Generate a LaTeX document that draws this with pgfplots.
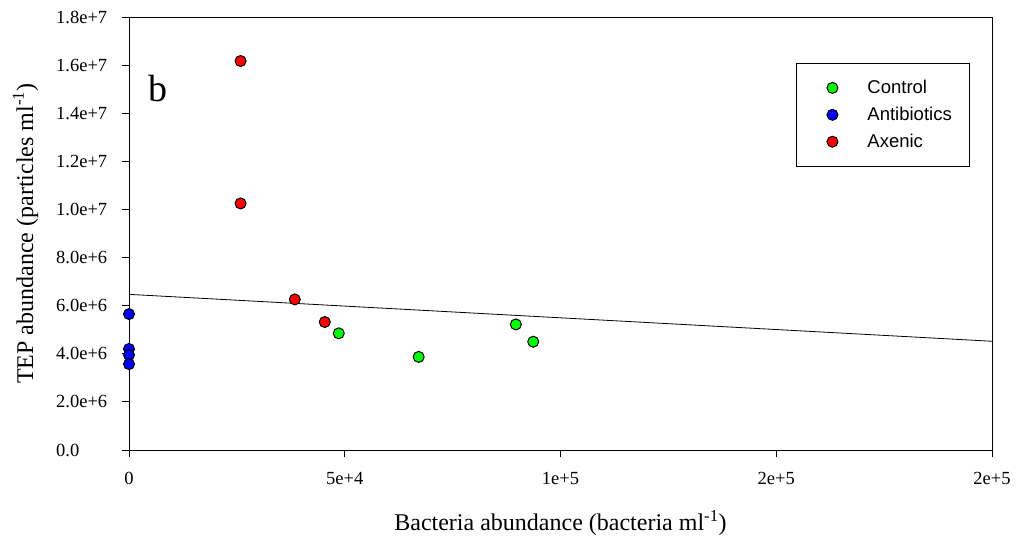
\documentclass[border=0pt]{standalone}
\usepackage{pgfplots}
\pgfplotsset{compat=1.18}
\usepackage{fontspec}
\setmainfont{Liberation Serif}
\newfontfamily\legendfont{Liberation Sans}
\definecolor{cgreen}{RGB}{0,255,0}
\definecolor{cblue}{RGB}{0,0,255}
\definecolor{cred}{RGB}{255,0,0}
\pgfplotsset{
  pt/.style={only marks, mark=*, mark size=5.5pt,
    mark options={draw=black, line width=1pt, fill=#1},
    legend image code/.code={\path[draw=none,fill=none] (-18pt,0pt) -- (6pt,0pt); \draw[##1, only marks] plot coordinates {(0pt,0pt)};}},
}
\begin{document}
\begin{tikzpicture}
\useasboundingbox (-129pt,-87pt) rectangle (887pt,450pt);
\begin{axis}[
  at={(0pt,0pt)}, anchor=south west,
  scale only axis, width=863pt, height=433pt,
  xmin=0, xmax=200000, ymin=0, ymax=18000000,
  scaled ticks=false,
  clip=false,
  axis line style={line width=0.9pt},
  tick style={line width=0.9pt, black},
  tick align=outside, tick pos=left,
  major tick length=7pt,
  xtick={0,50000,100000,150000,200000},
  xticklabels={0,5e+4,1e+5,2e+5,2e+5},
  ytick={0,2000000,4000000,6000000,8000000,10000000,12000000,14000000,16000000,18000000},
  yticklabels={0.0,2.0e+6,4.0e+6,6.0e+6,8.0e+6,1.0e+7,1.2e+7,1.4e+7,1.6e+7,1.8e+7},
  ticklabel style={font=\fontsize{18.5}{20}\selectfont, inner sep=0pt},
  yticklabel style={anchor=west, xshift=-66pt},
  xticklabel style={anchor=north, yshift=-15pt},
  xlabel={Bacteria abundance (bacteria ml\textsuperscript{-1})},
  ylabel={TEP abundance (particles ml\textsuperscript{-1})},
  label style={font=\fontsize{24}{26}\selectfont, inner sep=0pt},
  xlabel style={at={(0.5,-0.18637)}, anchor=base},
  ylabel style={at={(-0.11124,0.5)}, anchor=base},
  legend style={at={(0.77289,0.89376)}, anchor=north west, draw=black, line width=0.9pt,
    font=\legendfont\fontsize{18.5}{20}\selectfont,
    inner xsep=18pt, inner ysep=17pt, row sep=12pt,
    nodes={inner sep=0pt},
    /tikz/every odd column/.append style={column sep=29pt}},
  legend cell align=left,
]
\addplot[black, line width=0.8pt, forget plot] coordinates {(0,6470000) (200000,4520000)};
\addplot[pt=cgreen] coordinates {(48611,4850000) (67130,3870000) (89653,5220000) (93681,4500000)};
\addlegendentry{Control}
\addplot[pt=cblue] coordinates {(0,5650000) (0,4200000) (0,3950000) (0,3570000)};
\addlegendentry{Antibiotics}
\addplot[pt=cred] coordinates {(25856,16170000) (25856,10250000) (38426,6260000) (45370,5320000)};
\addlegendentry{Axenic}
\node[anchor=base, font=\fontsize{38}{40}\selectfont, inner sep=0pt] at (rel axis cs:0.0336,0.8044) {b};
\end{axis}
\end{tikzpicture}
\end{document}
